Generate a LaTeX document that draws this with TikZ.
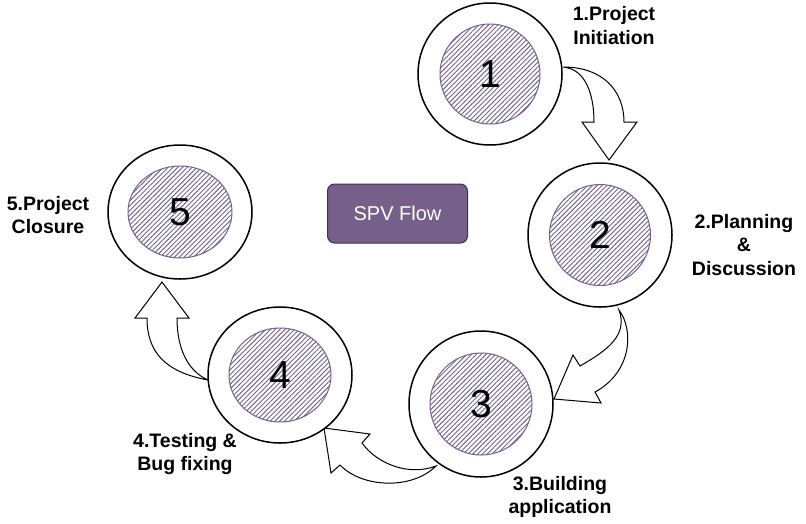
\documentclass[tikz,border=0pt]{standalone}
\usepackage{fontspec}
\setmainfont{Liberation Sans}
\usetikzlibrary{shapes.geometric,patterns.meta}
\definecolor{hatch}{HTML}{76658F}
\definecolor{ringpurple}{HTML}{76608A}
\definecolor{boxfill}{HTML}{76608A}
\definecolor{boxline}{HTML}{432D57}
\tikzset{
  outerring/.style={ellipse, draw=black, line width=1.5pt, fill=white, inner sep=0pt},
  core/.style={ellipse, draw=ringpurple, line width=1pt, inner sep=0pt,
    pattern={Lines[angle=45,distance=3.4pt,line width=0.95pt]}, pattern color=hatch},
  digit/.style={font=\fontsize{39}{45}\selectfont, text=black},
  caption/.style={font=\fontsize{19.5}{23.5}\selectfont\bfseries, align=center, text=black},
  flowarrow/.style={draw=black, line width=1pt, fill=white, line join=miter},
  titlebox/.style={draw=boxline, line width=1pt, fill=boxfill, rounded corners=7pt,
    text=white, font=\fontsize{20}{24}\selectfont, minimum width=140pt, minimum height=59pt}
}
\begin{document}
\begin{tikzpicture}[x=1pt,y=-1pt]
\useasboundingbox (0,0) rectangle (806,523);

% hollow curved arrows between the stages
\path[flowarrow] (563,67) .. controls (586,69) and (594,95) .. (594,122)
  -- (582,122) -- (609,160) -- (637,122) -- (624,122)
  .. controls (624,92) and (604,67) .. (563,67) -- cycle;
\path[flowarrow] (619,310) .. controls (634,330) and (632,372) .. (595,392)
  -- (601,403) -- (554,399) -- (573,355) -- (580,366)
  .. controls (608,350) and (628,335) .. (619,310) -- cycle;
\path[flowarrow] (436,466) .. controls (410,476) and (378,465) .. (362,443)
  -- (370,434) -- (324,428) -- (331,473) -- (340,465)
  .. controls (362,488) and (412,490) .. (436,466) -- cycle;
\path[flowarrow] (208,380) .. controls (165,372) and (147,352) .. (147,318)
  -- (135,318) -- (162,282) -- (189,318) -- (177,318)
  .. controls (177,352) and (190,372) .. (208,380) -- cycle;

% stage rings
\node[outerring, minimum width=144pt, minimum height=142pt] (o1) at (490,74) {};
\node[outerring, minimum width=144pt, minimum height=144pt] (o2) at (600,235) {};
\node[outerring, minimum width=144pt, minimum height=146pt] (o3) at (481,404) {};
\node[outerring, minimum width=144pt, minimum height=136pt] (o4) at (280,375) {};
\node[outerring, minimum width=144pt, minimum height=134pt] (o5) at (180,212) {};

% hatched cores with stage numbers
\node[core, minimum width=100pt, minimum height=100pt] (c1) at (o1) {};
\node[core, minimum width=101pt, minimum height=101pt] (c2) at (o2) {};
\node[core, minimum width=102pt, minimum height=102pt] (c3) at (o3) {};
\node[core, minimum width=102pt, minimum height=94pt] (c4) at (o4) {};
\node[core, minimum width=104pt, minimum height=92pt] (c5) at (o5) {};
\node[digit] (n1) at (c1) {1};
\node[digit] (n2) at (c2) {2};
\node[digit] (n3) at (c3) {3};
\node[digit] (n4) at (c4) {4};
\node[digit] (n5) at (c5) {5};

% centre label
\node[titlebox] (spv) at (397.5,213.5) {SPV Flow};

% stage captions
\node[caption] (t1) at (614,25.5) {1.Project\\Initiation};
\node[caption] (t2) at (744,245) {2.Planning\\\&\\Discussion};
\node[caption] (t3) at (560,497) {3.Building\\application};
\node[caption] (t4) at (185,454) {4.Testing \&\\Bug fixing};
\node[caption] (t5) at (48,215) {5.Project\\Closure};
\end{tikzpicture}
\end{document}
